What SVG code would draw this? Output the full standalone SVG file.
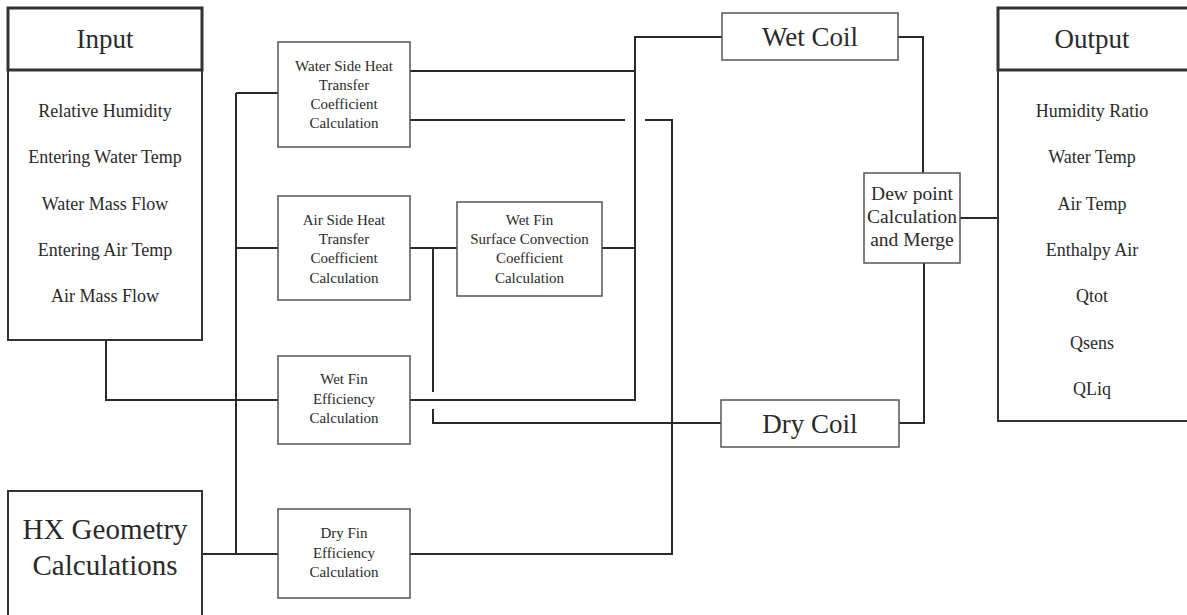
<svg xmlns="http://www.w3.org/2000/svg" width="1187" height="615" viewBox="0 0 1187 615">
<style>
.box{fill:#fff;stroke:#555;stroke-width:1.5}
.io{fill:#fff;stroke:#333;stroke-width:2}
.hdr{fill:#fff;stroke:#333;stroke-width:3}
.c{fill:none;stroke:#2a2a2a;stroke-width:2}
text{font-family:"Liberation Serif","Times New Roman",serif;fill:#2a2a2a;text-anchor:middle}
.t1{font-size:27px}
.t2{font-size:18px}
.t3{font-size:15px}
.t4{font-size:19.5px}
.t5{font-size:29px}
</style>
<rect width="1187" height="615" fill="#fff"/>
<g id="connectors">
<path class="c" d="M106 340 V400 H278"/>
<path class="c" d="M236 93 V554"/>
<path class="c" d="M236 93 H278"/>
<path class="c" d="M236 248 H278"/>
<path class="c" d="M202 554 H278"/>
<path class="c" d="M410 71 H635"/>
<path class="c" d="M722 37 H635 V400 H410"/>
<path class="c" d="M410 120 H625"/>
<path class="c" d="M645 120 H672 V554 H410"/>
<path class="c" d="M410 248 H457"/>
<path class="c" d="M602 248 H635"/>
<path class="c" d="M433 248 V392"/>
<path class="c" d="M433 409 V423 H721"/>
<path class="c" d="M898 37 H923 V173"/>
<path class="c" d="M924 263 V423 H899"/>
<path class="c" d="M960 218 H998"/>
</g>
<g id="input">
<rect class="io" x="8" y="70" width="194" height="270"/>
<rect class="hdr" x="8" y="8" width="194" height="62"/>
<text class="t1" x="105" y="48">Input</text>
<text class="t2" x="105" y="117">Relative Humidity</text>
<text class="t2" x="105" y="163">Entering Water Temp</text>
<text class="t2" x="105" y="210">Water Mass Flow</text>
<text class="t2" x="105" y="256">Entering Air Temp</text>
<text class="t2" x="105" y="302">Air Mass Flow</text>
</g>
<g id="hx-geometry">
<rect class="io" x="8" y="491" width="194" height="140"/>
<text class="t5" x="105" y="539">HX Geometry</text>
<text class="t5" x="105" y="575">Calculations</text>
</g>
<g id="water-side">
<rect class="box" x="278" y="42" width="132" height="105"/>
<text class="t3" x="344" y="71">Water Side Heat</text>
<text class="t3" x="344" y="90">Transfer</text>
<text class="t3" x="344" y="109">Coefficient</text>
<text class="t3" x="344" y="128">Calculation</text>
</g>
<g id="air-side">
<rect class="box" x="278" y="196" width="132" height="104"/>
<text class="t3" x="344" y="225">Air Side Heat</text>
<text class="t3" x="344" y="244">Transfer</text>
<text class="t3" x="344" y="263">Coefficient</text>
<text class="t3" x="344" y="283">Calculation</text>
</g>
<g id="wet-fin-surface">
<rect class="box" x="457" y="202" width="145" height="94"/>
<text class="t3" x="529.5" y="225">Wet Fin</text>
<text class="t3" x="529.5" y="244">Surface Convection</text>
<text class="t3" x="529.5" y="263">Coefficient</text>
<text class="t3" x="529.5" y="283">Calculation</text>
</g>
<g id="wet-fin-efficiency">
<rect class="box" x="278" y="356" width="132" height="88"/>
<text class="t3" x="344" y="384">Wet Fin</text>
<text class="t3" x="344" y="404">Efficiency</text>
<text class="t3" x="344" y="423">Calculation</text>
</g>
<g id="dry-fin-efficiency">
<rect class="box" x="278" y="509" width="132" height="89"/>
<text class="t3" x="344" y="538">Dry Fin</text>
<text class="t3" x="344" y="558">Efficiency</text>
<text class="t3" x="344" y="577">Calculation</text>
</g>
<g id="wet-coil">
<rect class="box" x="722" y="13" width="176" height="47"/>
<text class="t1" x="810" y="46">Wet Coil</text>
</g>
<g id="dry-coil">
<rect class="box" x="721" y="400" width="178" height="47"/>
<text class="t1" x="810" y="433">Dry Coil</text>
</g>
<g id="dew-point">
<rect class="box" x="864" y="173" width="96" height="90"/>
<text class="t4" x="912" y="200">Dew point</text>
<text class="t4" x="912" y="223">Calculation</text>
<text class="t4" x="912" y="246">and Merge</text>
</g>
<g id="output">
<rect class="io" x="998" y="70" width="200" height="351"/>
<rect class="hdr" x="998" y="8" width="200" height="62"/>
<text class="t1" x="1092" y="48">Output</text>
<text class="t2" x="1092" y="117">Humidity Ratio</text>
<text class="t2" x="1092" y="163">Water Temp</text>
<text class="t2" x="1092" y="210">Air Temp</text>
<text class="t2" x="1092" y="256">Enthalpy Air</text>
<text class="t2" x="1092" y="302">Qtot</text>
<text class="t2" x="1092" y="349">Qsens</text>
<text class="t2" x="1092" y="395">QLiq</text>
</g>
</svg>
